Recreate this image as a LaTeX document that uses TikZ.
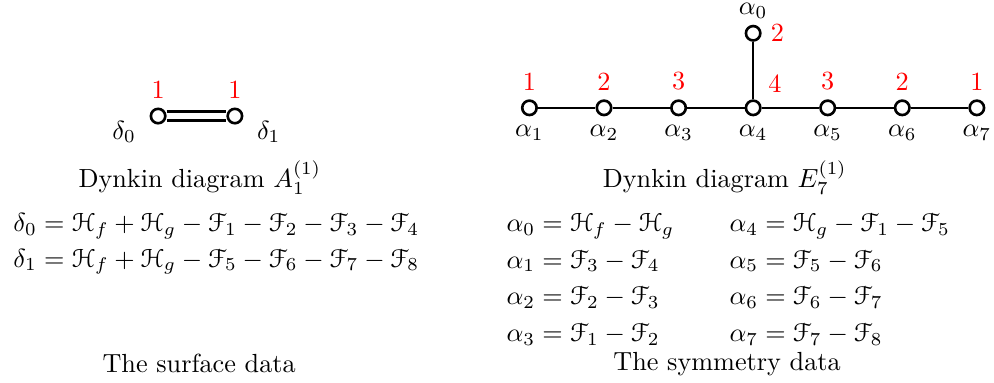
\documentclass[tikz,border=0pt]{standalone}
\usepackage[mathcal]{eucal}
\usetikzlibrary{positioning}

\begin{document}
\begin{tikzpicture}[
  dot/.style={circle, draw, line width=1pt, fill=white, inner sep=0pt, minimum size=5.5pt},
  mult/.style={text=red},
  bond/.style={line width=1pt},
  eqn/.style={anchor=base west, inner sep=0pt},
  captxt/.style={anchor=base, inner sep=0pt}
]
  \useasboundingbox (0,0) rectangle (13.33,5.136);

  % surface data: affine A1
  \node[dot, label={[mult]above:1}, label={[label distance=2pt, yshift=3.5pt]200:$\delta_0$}] (d0) at (2.12,3.58) {};
  \node[dot, label={[mult]above:1}, label={[label distance=2pt, yshift=3.5pt]-20:$\delta_1$}] (d1) at (3.15,3.58) {};
  \draw[bond, double, double distance=2.4pt] (d0) -- (d1);

  \node[captxt] (capA) at (2.68,2.615) {Dynkin diagram $A_1^{(1)}$};
  \node[eqn] (eqd0) at (0.174,2.032)
    {$\delta_0=\mathcal{H}_f+\mathcal{H}_g-\mathcal{F}_1-\mathcal{F}_2-\mathcal{F}_3-\mathcal{F}_4$};
  \node[eqn] (eqd1) at (0.174,1.555)
    {$\delta_1=\mathcal{H}_f+\mathcal{H}_g-\mathcal{F}_5-\mathcal{F}_6-\mathcal{F}_7-\mathcal{F}_8$};
  \node[captxt] (surf) at (2.67,0.134) {The surface data};

  % symmetry data: affine E7
  \node[dot, label={[mult]above:1}, label={below:$\alpha_1$}] (a1) at (7.1,3.69) {};
  \node[dot, label={[mult]above:2}, label={below:$\alpha_2$}] (a2) at (8.1,3.69) {};
  \node[dot, label={[mult]above:3}, label={below:$\alpha_3$}] (a3) at (9.1,3.69) {};
  \node[dot, label={[mult]above right:4}, label={below:$\alpha_4$}] (a4) at (10.1,3.69) {};
  \node[dot, label={[mult]above:3}, label={below:$\alpha_5$}] (a5) at (11.1,3.69) {};
  \node[dot, label={[mult]above:2}, label={below:$\alpha_6$}] (a6) at (12.1,3.69) {};
  \node[dot, label={[mult]above:1}, label={below:$\alpha_7$}] (a7) at (13.1,3.69) {};
  \node[dot, label={[mult]right:2}, label={[inner sep=1pt, label distance=1.33pt]above:$\alpha_0$}] (a0) at (10.1,4.69) {};

  \draw[bond] (a1) -- (a2);
  \draw[bond] (a2) -- (a3);
  \draw[bond] (a3) -- (a4);
  \draw[bond] (a4) -- (a5);
  \draw[bond] (a5) -- (a6);
  \draw[bond] (a6) -- (a7);
  \draw[bond] (a4) -- (a0);

  \node[captxt] (capE) at (9.72,2.615) {Dynkin diagram $E_7^{(1)}$};
  \node[eqn] (eqa0) at (6.786,2.032) {$\alpha_0=\mathcal{H}_f-\mathcal{H}_g$};
  \node[eqn] (eqa1) at (6.786,1.542) {$\alpha_1=\mathcal{F}_3-\mathcal{F}_4$};
  \node[eqn] (eqa2) at (6.786,1.046) {$\alpha_2=\mathcal{F}_2-\mathcal{F}_3$};
  \node[eqn] (eqa3) at (6.786,0.550) {$\alpha_3=\mathcal{F}_1-\mathcal{F}_2$};
  \node[eqn] (eqa4) at (9.776,2.032) {$\alpha_4=\mathcal{H}_g-\mathcal{F}_1-\mathcal{F}_5$};
  \node[eqn] (eqa5) at (9.776,1.542) {$\alpha_5=\mathcal{F}_5-\mathcal{F}_6$};
  \node[eqn] (eqa6) at (9.776,1.046) {$\alpha_6=\mathcal{F}_6-\mathcal{F}_7$};
  \node[eqn] (eqa7) at (9.776,0.550) {$\alpha_7=\mathcal{F}_7-\mathcal{F}_8$};
  \node[captxt] (symm) at (9.75,0.161) {The symmetry data};
\end{tikzpicture}
\end{document}
